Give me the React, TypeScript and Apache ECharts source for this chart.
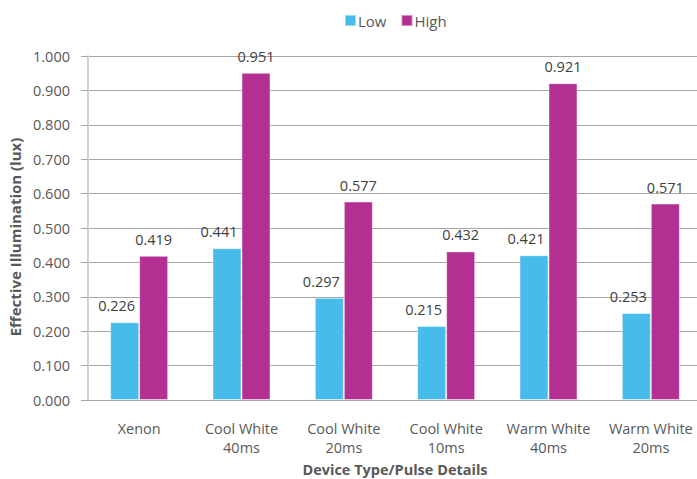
import React, { useEffect, useRef } from "react";
import * as echarts from "echarts";

const categories = ["Xenon", "Cool White\n40ms", "Cool White\n20ms", "Cool White\n10ms", "Warm White\n40ms", "Warm White\n20ms"];
const lowValues = [0.226, 0.441, 0.297, 0.215, 0.421, 0.253];
const highValues = [0.419, 0.951, 0.577, 0.432, 0.921, 0.571];
const seriesNames = ["Low", "High"];

export default function App() {
  const ref = useRef<HTMLDivElement>(null);
  useEffect(() => {
    if (!ref.current) return;
    const chart = echarts.init(ref.current, undefined, { renderer: "svg" });
    const font = "'Open Sans', 'Segoe UI', sans-serif";
    const makeLabel = (dx: number) => ({
      show: true,
      position: "top",
      distance: 9,
      offset: [dx, 0],
      color: "#404040",
      fontSize: 14.5,
      fontFamily: font,
      formatter: (p: any) => p.value.toFixed(3),
    });
    chart.setOption({
      animation: false,
      textStyle: { fontFamily: font },
      legend: {
        data: seriesNames,
        top: 8,
        left: 339,
        itemWidth: 11,
        itemHeight: 11,
        itemGap: 14,
        icon: "rect",
        textStyle: { fontSize: 15, color: "#595959", fontFamily: font, padding: [0, 0, 0, -3] },
      },
      grid: { left: 88, right: -5, top: 56, bottom: 79, containLabel: false, outerBoundsMode: "none" },
      xAxis: {
        type: "category",
        data: categories,
        name: "Device Type/Pulse Details",
        nameLocation: "middle",
        nameGap: 60,
        nameTextStyle: { fontSize: 14.5, fontWeight: "bold", color: "#595959", fontFamily: font },
        axisLine: { show: true, lineStyle: { color: "#a6a6a6" } },
        axisTick: { show: false },
        axisLabel: { interval: 0, hideOverlap: false, fontSize: 14.5, color: "#595959", margin: 19, lineHeight: 19, fontFamily: font },
      },
      yAxis: {
        type: "value",
        min: 0,
        max: 1,
        interval: 0.1,
        name: "Effective Illumination (lux)",
        nameLocation: "middle",
        nameGap: 63,
        nameTextStyle: { fontSize: 15, fontWeight: "bold", color: "#595959", fontFamily: font, padding: [0, 18, 0, 0] },
        axisLine: { show: true, lineStyle: { color: "#d0d0d0", width: 2 } },
        axisTick: { show: true, length: 7, lineStyle: { color: "#a6a6a6" } },
        axisLabel: { fontSize: 14.5, color: "#595959", margin: 18, formatter: (v: number) => v.toFixed(3), fontFamily: font },
        splitLine: { show: true, lineStyle: { color: "#a6a6a6" } },
      },
      series: [
        {
          name: seriesNames[0],
          type: "bar",
          data: lowValues,
          barWidth: 29,
          barGap: "0%",
          itemStyle: { color: "#47bbea", borderColor: "rgba(255,255,255,0.45)", borderWidth: 1 },
          label: makeLabel(-8),
        },
        {
          name: seriesNames[1],
          type: "bar",
          data: highValues,
          barWidth: 29,
          barGap: "0%",
          itemStyle: { color: "#b32f92", borderColor: "rgba(255,255,255,0.45)", borderWidth: 1 },
          label: makeLabel(0),
        },
      ],
    });
    return () => chart.dispose();
  }, []);
  return <div ref={ref} style={{ width: 697, height: 479, position: "absolute", left: 0, top: 0, background: "#fff" }} />;
}
